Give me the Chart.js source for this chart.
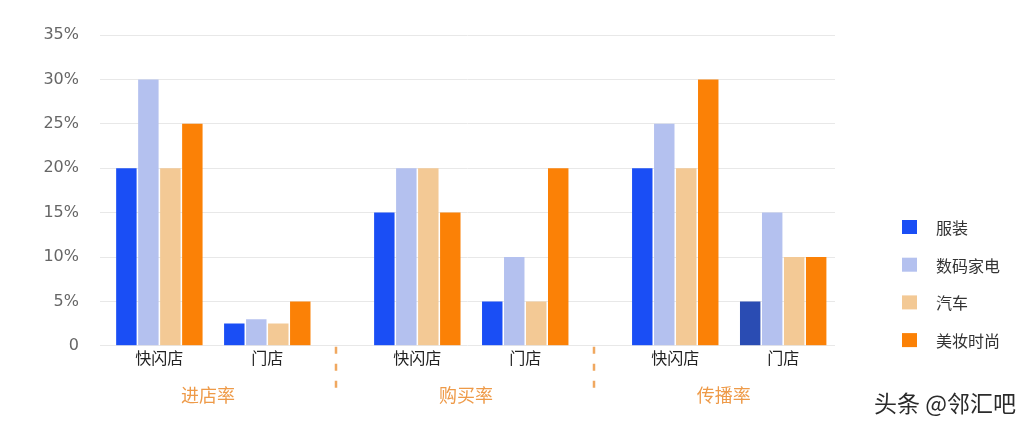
<!DOCTYPE html>
<html>
<head>
<meta charset="utf-8">
<script src="https://cdn.jsdelivr.net/npm/chart.js@4.4.1/dist/chart.umd.min.js"></script>
<style>
    html, body { margin: 0; padding: 0; background: #ffffff; }
    #wrap { width: 1030px; height: 429px; position: relative; }
</style>
</head>
<body>
<div id="wrap"><canvas id="chart"></canvas></div>
<script>
// Data
const categories = ["快闪店", "门店", "快闪店", "门店", "快闪店", "门店"];
const groupLabels = ["进店率", "购买率", "传播率"];
const seriesNames = ["服装", "数码家电", "汽车", "美妆时尚"];
const clothing = [20, 2.5, 15, 5, 20, 5];
const electronics = [30, 3, 20, 10, 25, 15];
const cars = [20, 2.5, 20, 5, 20, 10];
const beauty = [25, 5, 15, 20, 30, 10];
const yTicks = [0, 5, 10, 15, 20, 25, 30, 35];

// Groups sit a bit further apart than the two stores inside a group
const GROUP_STEP = 2.39;
const xPos = categories.map((c, i) => Math.floor(i / 2) * GROUP_STEP + (i % 2));

const colors = ["#1a4ef5", "#b4c1ef", "#f3c995", "#fb8106"];
// the 服装 bar of 传播率 / 门店 is drawn in a darker blue
const clothingColors = clothing.map((v, i) => (i === 5 ? "#2a4cb3" : colors[0]));

const toPoints = (arr) => arr.map((v, i) => ({ x: xPos[i], y: v }));

const cjk = '"Noto Sans CJK SC", "Noto Sans", sans-serif';

// Draws separators, group titles, legend and the watermark
const extrasPlugin = {
    id: "extras",
    afterDraw(chart) {
        const ctx = chart.ctx;
        const xs = chart.scales.x;
        const area = chart.chartArea;
        ctx.save();

        // dashed separators between groups
        ctx.strokeStyle = "#f0a860";
        ctx.lineWidth = 2.5;
        ctx.setLineDash([7, 10]);
        for (let g = 0; g < groupLabels.length - 1; g++) {
            const px = Math.round(xs.getPixelForValue(g * GROUP_STEP + 1.64));
            ctx.beginPath();
            ctx.moveTo(px, area.bottom + 1);
            ctx.lineTo(px, area.bottom + 48);
            ctx.stroke();
        }
        ctx.setLineDash([]);

        // group titles
        ctx.fillStyle = "#ee9a48";
        ctx.font = "18px " + cjk;
        ctx.textAlign = "center";
        ctx.textBaseline = "middle";
        groupLabels.forEach((lbl, g) => {
            const px = xs.getPixelForValue(g * GROUP_STEP + 0.45);
            ctx.fillText(lbl, px, area.bottom + 49);
        });

        // legend
        ctx.textAlign = "left";
        ctx.font = "16px " + cjk;
        chart.data.datasets.forEach((ds, i) => {
            const cy = 227 + i * 37.7;
            ctx.fillStyle = colors[i];
            ctx.fillRect(902, cy - 7, 15, 14);
            ctx.fillStyle = "#333333";
            ctx.fillText(ds.label, 936, cy + 1);
        });

        // watermark
        ctx.font = "23px " + cjk;
        ctx.textAlign = "right";
        ctx.lineWidth = 3;
        ctx.strokeStyle = "#ffffff";
        ctx.strokeText("头条 @邻汇吧", 1016, 403);
        ctx.fillStyle = "#2b2b2b";
        ctx.fillText("头条 @邻汇吧", 1016, 403);

        ctx.restore();
    }
};

const ctx = document.getElementById("chart").getContext("2d");
new Chart(ctx, {
    type: "bar",
    data: {
        datasets: [
            { label: seriesNames[0], data: toPoints(clothing), backgroundColor: clothingColors },
            { label: seriesNames[1], data: toPoints(electronics), backgroundColor: colors[1] },
            { label: seriesNames[2], data: toPoints(cars), backgroundColor: colors[2] },
            { label: seriesNames[3], data: toPoints(beauty), backgroundColor: colors[3] },
        ],
    },
    options: {
        responsive: true,
        maintainAspectRatio: false,
        animation: false,
        categoryPercentage: 0.815,
        barPercentage: 0.93,
        layout: { padding: { top: 35, left: 42, right: 195, bottom: 58 } },
        plugins: {
            legend: { display: false },
            tooltip: { enabled: false },
        },
        scales: {
            x: {
                type: "linear",
                offset: false,
                min: -0.55,
                max: xPos[xPos.length - 1] + 0.48,
                grid: { display: false, drawTicks: false },
                border: { display: false },
                afterBuildTicks: (scale) => {
                    scale.ticks = xPos.map((v) => ({ value: v }));
                },
                ticks: {
                    autoSkip: false,
                    maxRotation: 0,
                    padding: 3,
                    color: "#222222",
                    font: { family: cjk, size: 16 },
                    callback: (value, index) => categories[index],
                },
            },
            y: {
                min: 0,
                max: 35,
                afterBuildTicks: (scale) => {
                    scale.ticks = yTicks.map((v) => ({ value: v }));
                },
                afterFit: (scale) => {
                    scale.width = 58;
                },
                grid: { color: "#e8e8e8", lineWidth: 1, drawTicks: false },
                border: { display: false },
                ticks: {
                    padding: 21,
                    color: "#666666",
                    font: { family: '"DejaVu Sans", sans-serif', size: 16 },
                    callback: (v) => (v === 0 ? "0" : v + "%"),
                },
            },
        },
    },
    plugins: [extrasPlugin],
});
</script>
</body>
</html>
